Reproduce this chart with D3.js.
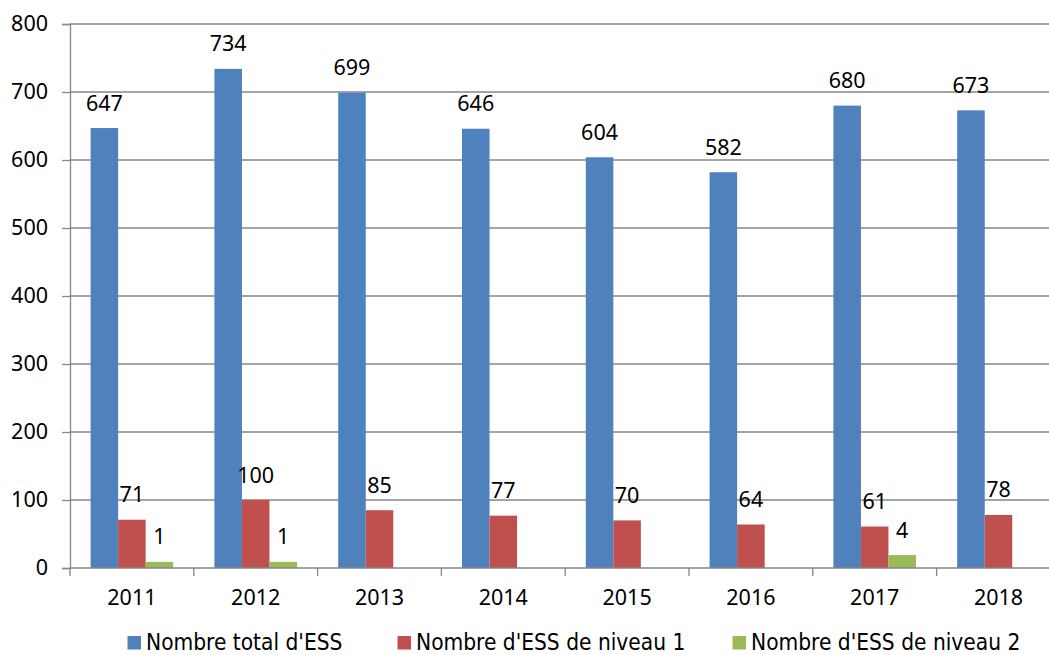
<!DOCTYPE html>
<html><head><meta charset="utf-8">
<script src="https://cdn.jsdelivr.net/npm/d3@7"></script>
<style>
body{margin:0;background:#fff;}
text{fill:#000;}
.num{font-family:"Noto Sans",sans-serif;}
.leg{font-family:"DejaVu Sans Condensed","DejaVu Sans",sans-serif;font-stretch:condensed;}
</style></head>
<body><svg id="c" width="1049" height="655"></svg>
<script>
const years = ["2011","2012","2013","2014","2015","2016","2017","2018"];
const totalESS = [647,734,699,646,604,582,680,673];
const level1ESS = [71,100,85,77,70,64,61,78];
// level 2: labels as printed, and bar heights as drawn in the picture
const level2Labels = ["1","1",null,null,null,null,"4",null];
const level2Bars = [9,9,null,null,null,null,19,null];
const yTicks = [0,100,200,300,400,500,600,700,800];
const seriesNames = ["Nombre total d'ESS","Nombre d'ESS de niveau 1","Nombre d'ESS de niveau 2"];
const colors = ["#4F81BD","#C0504D","#9BBB59"];

(function(){
const svg = d3.select("#c");
const mLeft = 70, mTop = 24, mBottom = 568, mRight = 70 + 8*123.8;
const x = d3.scaleBand().domain(years).range([mLeft, mRight]).paddingInner(0).paddingOuter(0);
const y = d3.scaleLinear().domain([0,800]).range([mBottom, mTop]);
const groupW = 82.6, barW = groupW/3;

svg.append("g").selectAll("line").data(yTicks.filter(d=>d>0)).join("line")
  .attr("x1", mLeft).attr("x2", mRight).attr("y1", d=>y(d)).attr("y2", d=>y(d))
  .attr("stroke","#868686").attr("stroke-width",1.3);

const ya = svg.append("g").attr("transform",`translate(${mLeft},0)`)
  .call(d3.axisLeft(y).tickValues(yTicks).tickSize(8).tickPadding(14).tickFormat(d3.format("d")));
ya.attr("font-family",null).attr("font-size",null);
ya.select(".domain").attr("stroke","#868686").attr("stroke-width",1.3);
ya.selectAll(".tick line").attr("stroke","#868686").attr("stroke-width",1.3);
ya.selectAll("text").attr("class","num").attr("font-size",21.5).attr("fill","#000");

const series = [
  {vals: totalESS, labels: totalESS.map(String)},
  {vals: level1ESS, labels: level1ESS.map(String)},
  {vals: level2Bars, labels: level2Labels}
];
series.forEach((s,si)=>{
  const g = svg.append("g");
  const data = years.map((yr,i)=>({yr, v:s.vals[i], lab:s.labels[i]})).filter(d=>d.v!=null);
  const bx = d => x(d.yr) + x.bandwidth()/2 - groupW/2 + si*barW;
  g.selectAll("rect").data(data).join("rect")
    .attr("x", bx).attr("width", barW)
    .attr("y", d=>y(d.v)).attr("height", d=>y(0)-y(d.v))
    .attr("fill", colors[si]);
  g.selectAll("text").data(data).join("text")
    .attr("class","num")
    .attr("x", d=>bx(d)+barW/2).attr("y", d=>y(d.v)-17.5)
    .attr("text-anchor","middle").attr("font-size",21.5).text(d=>d.lab);
});

const xa = svg.append("g").attr("transform",`translate(0,${mBottom})`)
  .call(d3.axisBottom(x).tickSize(0).tickPadding(22));
xa.attr("font-family",null).attr("font-size",null);
xa.select(".domain").remove();
xa.selectAll("text").attr("class","num").attr("font-size",21.5).attr("fill","#000");
svg.append("line").attr("x1",mLeft).attr("x2",mRight).attr("y1",mBottom).attr("y2",mBottom)
  .attr("stroke","#868686").attr("stroke-width",1.3);
svg.append("g").selectAll("line").data(d3.range(9)).join("line")
  .attr("x1",i=>mLeft+i*x.bandwidth()).attr("x2",i=>mLeft+i*x.bandwidth())
  .attr("y1",mBottom).attr("y2",mBottom+8).attr("stroke","#868686").attr("stroke-width",1.3);

const legX = [127.5, 397.5, 732.5];
const lg = svg.append("g");
seriesNames.forEach((n,i)=>{
  lg.append("rect").attr("x",legX[i]).attr("y",636).attr("width",13.5).attr("height",13.5).attr("fill",colors[i]);
  lg.append("text").attr("class","leg").attr("x",legX[i]+18.5).attr("y",649.5).attr("font-size",22.5).text(n);
});
})();
</script></body></html>
